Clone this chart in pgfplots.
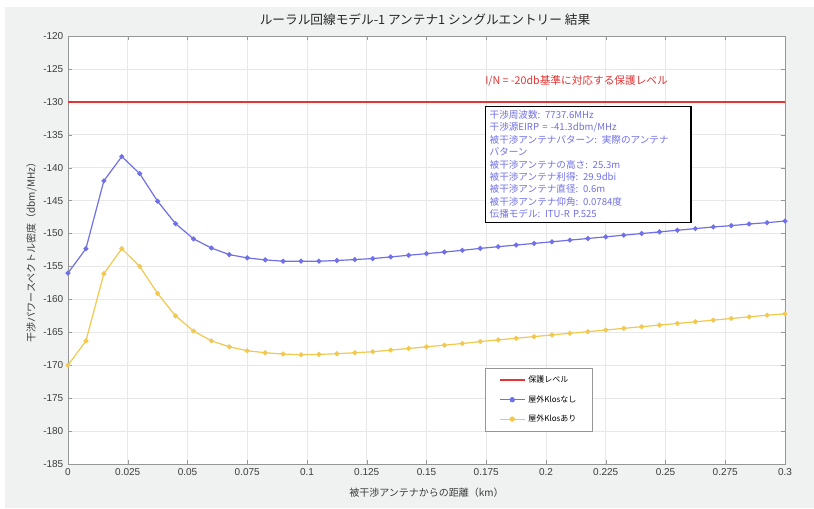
\documentclass[border=0pt]{standalone}
\usepackage{pgfplots}
\pgfplotsset{compat=1.18}
\usepackage{fontspec}
\setmainfont{Liberation Sans}
\newfontfamily\jp{Noto Sans CJK JP}
\definecolor{figbg}{RGB}{240,241,241}
\definecolor{bluel}{RGB}{112,112,232}
\definecolor{yell}{RGB}{242,200,78}
\definecolor{redl}{RGB}{228,52,52}
\definecolor{axgray}{RGB}{150,150,150}
\definecolor{gridc}{RGB}{232,232,232}
\definecolor{tickc}{RGB}{60,60,60}
\begin{document}
\begin{tikzpicture}[x=0.75pt,y=0.75pt]
\fill[white] (0,0) rectangle (814,508);
\fill[figbg] (5,0) rectangle (814,501);
\begin{axis}[
  at={(51pt,33pt)}, anchor=south west,
  scale only axis, width=537.75pt, height=321pt,
  axis background/.style={fill=white},
  xmin=0, xmax=0.3, ymin=-185, ymax=-120,
  xtick={0,0.025,0.05,0.075,0.1,0.125,0.15,0.175,0.2,0.225,0.25,0.275,0.3},
  xticklabels={0,0.025,0.05,0.075,0.1,0.125,0.15,0.175,0.2,0.225,0.25,0.275,0.3},
  ytick={-185,-180,...,-120},
  /pgf/number format/assume math mode=true,
  tick label style={font=\fontsize{7.5}{9}\selectfont, text=tickc},
  grid=major, major grid style={draw=gridc, line width=0.5pt},
  axis line style={draw=axgray}, tick style={draw=axgray},
  tick align=inside, major tick length=3pt,
  xlabel={\jp 被干渉アンテナからの距離（km）},
  ylabel={\jp 干渉パワースペクトル密度（dbm/MHz）},
  label style={font=\fontsize{7.5}{9}\selectfont, text=tickc},
  xlabel style={yshift=-2pt},
  ylabel style={yshift=-2pt},
  legend style={at={(0.582,0.225)}, anchor=north west, draw=axgray, fill=white,
     font=\jp\fontsize{6}{7}\selectfont, row sep=4pt, inner xsep=10pt, inner ysep=4pt},
  legend image post style={scale=1.1},
  legend cell align=left,
  clip=false,
]
\addplot[redl, line width=1.3pt] coordinates {(0,-130) (0.3,-130)};
\addlegendentry{保護レベル}
\addplot[bluel, line width=0.9pt, mark=*, mark size=1.4pt, mark options={fill=bluel}] coordinates {
(0,-156.0) (0.0075,-152.3) (0.015,-142.0) (0.0225,-138.3) (0.03,-140.9) (0.0375,-145.1)
(0.045,-148.5) (0.0525,-150.8) (0.06,-152.2) (0.0675,-153.2) (0.075,-153.7) (0.0825,-154.0)
(0.09,-154.2) (0.0975,-154.2) (0.105,-154.2) (0.1125,-154.1) (0.12,-153.95) (0.1275,-153.8)
(0.135,-153.55) (0.1425,-153.3) (0.15,-153.05) (0.1575,-152.8) (0.165,-152.55) (0.1725,-152.25)
(0.18,-152.0) (0.1875,-151.75) (0.195,-151.5) (0.2025,-151.25) (0.21,-151.0) (0.2175,-150.75)
(0.225,-150.5) (0.2325,-150.25) (0.24,-150.0) (0.2475,-149.75) (0.255,-149.5) (0.2625,-149.25)
(0.27,-149.0) (0.2775,-148.8) (0.285,-148.55) (0.2925,-148.35) (0.3,-148.1)};
\addlegendentry{屋外Klosなし}
\addplot[yell, line width=0.9pt, mark=*, mark size=1.4pt, mark options={fill=yell}] coordinates {
(0,-170.0) (0.0075,-166.3) (0.015,-156.1) (0.0225,-152.3) (0.03,-155.0) (0.0375,-159.1)
(0.045,-162.5) (0.0525,-164.8) (0.06,-166.3) (0.0675,-167.2) (0.075,-167.8) (0.0825,-168.1)
(0.09,-168.3) (0.0975,-168.4) (0.105,-168.35) (0.1125,-168.25) (0.12,-168.1) (0.1275,-167.95)
(0.135,-167.7) (0.1425,-167.45) (0.15,-167.2) (0.1575,-166.95) (0.165,-166.7) (0.1725,-166.4)
(0.18,-166.15) (0.1875,-165.9) (0.195,-165.65) (0.2025,-165.4) (0.21,-165.15) (0.2175,-164.9)
(0.225,-164.65) (0.2325,-164.4) (0.24,-164.15) (0.2475,-163.9) (0.255,-163.65) (0.2625,-163.4)
(0.27,-163.15) (0.2775,-162.9) (0.285,-162.65) (0.2925,-162.4) (0.3,-162.2)};
\addlegendentry{屋外Klosあり}
\node[anchor=west, text=redl, font=\jp\fontsize{8}{10}\selectfont, inner sep=0pt] at (axis cs:0.1745,-126.9) {I/N = -20db基準に対応する保護レベル};
\node[anchor=north west, draw=black, line width=0.9pt, fill=white, text=bluel, align=left,
  font=\jp\fontsize{7.2}{9.3}\selectfont, inner xsep=3pt, inner ysep=3pt, text width=148pt]
  at (axis cs:0.1745,-130.6) {干渉周波数: 7737.6MHz\\干渉源EIRP = -41.3dbm/MHz\\被干渉アンテナパターン: 実際のアンテナ\\パターン\\被干渉アンテナの高さ: 25.3m\\被干渉アンテナ利得: 29.9dbi\\被干渉アンテナ直径: 0.6m\\被干渉アンテナ仰角: 0.0784度\\伝播モデル: ITU-R P.525};
\end{axis}
\node[font=\jp\fontsize{9.5}{11}\selectfont, text=black!85] at (425,488) {ルーラル回線モデル-1 アンテナ1 シングルエントリー 結果};
\end{tikzpicture}
\end{document}
